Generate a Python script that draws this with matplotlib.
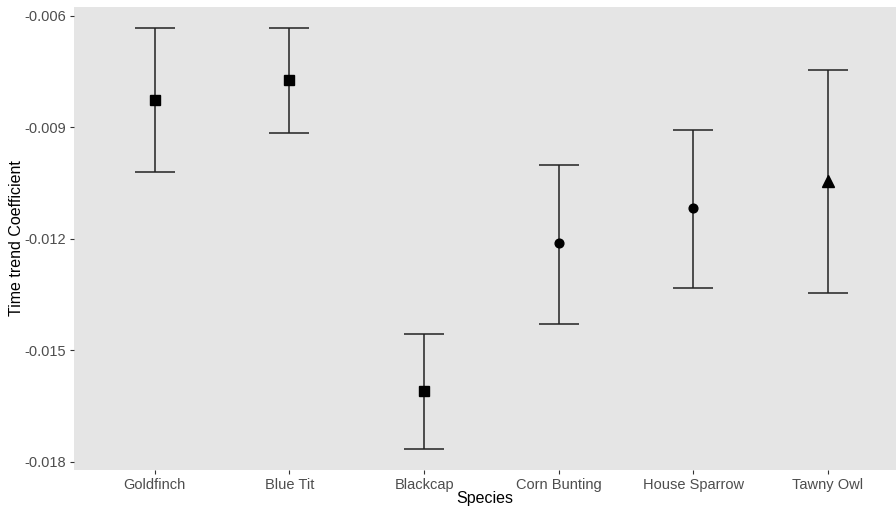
import matplotlib
matplotlib.use("Agg")
import matplotlib.pyplot as plt

species = ["Goldfinch", "Blue Tit", "Blackcap", "Corn Bunting", "House Sparrow", "Tawny Owl"]
coef = [-0.00825, -0.00772, -0.01610, -0.01211, -0.01118, -0.01043]
upper = [-0.00633, -0.00633, -0.01457, -0.01001, -0.00906, -0.00745]
lower = [-0.01019, -0.00916, -0.01766, -0.01429, -0.01333, -0.01347]
markers = ["s", "s", "s", "o", "o", "^"]
yticks = [-0.018, -0.015, -0.012, -0.009, -0.006]


def main():
    plt.rcParams["font.family"] = ["Liberation Sans", "DejaVu Sans"]
    fig = plt.figure(figsize=(8.96, 5.09), dpi=100)
    ax = fig.add_axes([74 / 896, 39 / 509, 822 / 896, 463 / 509])
    ax.set_facecolor("#E5E5E5")

    x = list(range(1, len(species) + 1))
    for xi, c, hi, lo, m in zip(x, coef, upper, lower, markers):
        ax.errorbar(xi, c, yerr=[[c - lo], [hi - c]], fmt="none",
                    ecolor="#222222", elinewidth=1.1, capsize=14.4, capthick=1.1)
        ms = {"s": 6.5, "o": 6.3, "^": 8}[m]
        ax.plot(xi, c, marker=m, color="black", markersize=ms, linestyle="none")

    # panel is cut off on the right in the original
    ax.set_xlim(0.4, 6.505)
    ax.set_ylim(-0.01822, -0.00576)
    ax.set_xticks(x)
    ax.set_xticklabels(species)
    ax.set_yticks(yticks)
    ax.set_yticklabels(["%.3f" % t for t in yticks])
    for s in ax.spines.values():
        s.set_visible(False)
    ax.tick_params(axis="both", colors="#333333", labelcolor="#4D4D4D",
                   labelsize=10.5, length=3, width=0.8, pad=3)
    ax.set_xlabel("Species", fontsize=11.5, labelpad=-1)
    ax.set_ylabel("Time trend Coefficient", fontsize=11.5, labelpad=0)

    fig.savefig("out.png", dpi=100)


if __name__ == "__main__":
    main()
